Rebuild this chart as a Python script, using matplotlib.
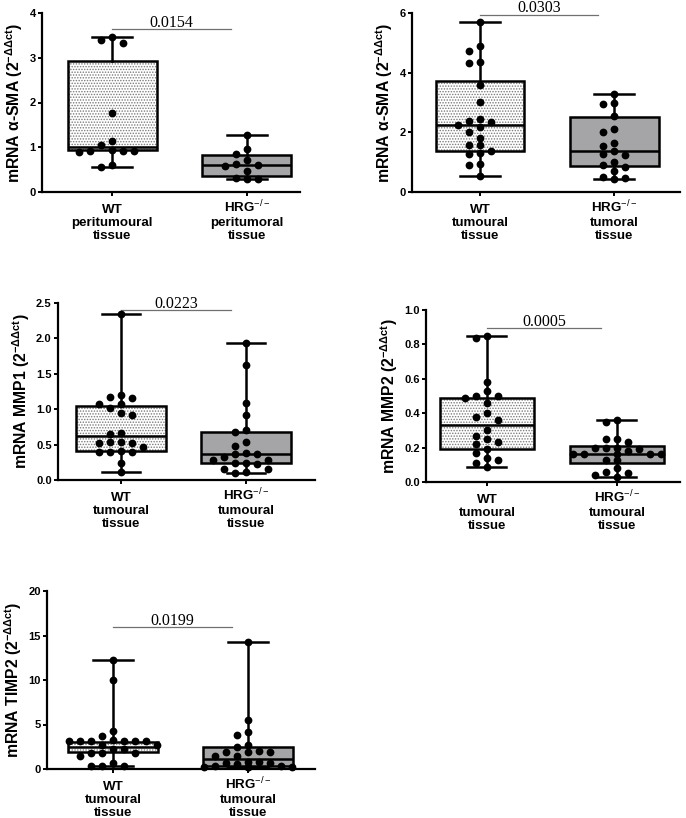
"""Box plots of mRNA levels, WT vs HRG-/- tissue."""
import matplotlib
matplotlib.use('Agg')
import matplotlib.pyplot as plt
from matplotlib.patches import Rectangle
import numpy as np

plt.rcParams['font.family'] = ['Liberation Sans', 'DejaVu Sans']
plt.rcParams['mathtext.fontset'] = 'custom'
plt.rcParams['mathtext.rm'] = 'Liberation Sans'
plt.rcParams['mathtext.bf'] = 'Liberation Sans:bold'
plt.rcParams['hatch.linewidth'] = 0.7

W, H = 686, 818

# ── Data ──────────────────────────────────────────────────
groups_asma_peri = ['WT\nperitumoural\ntissue', 'HRG$^{\\mathrm{-/-}}$\nperitumoral\ntissue']
groups_asma_tum = ['WT\ntumoural\ntissue', 'HRG$^{\\mathrm{-/-}}$\ntumoral\ntissue']
groups_tum = ['WT\ntumoural\ntissue', 'HRG$^{\\mathrm{-/-}}$\ntumoural\ntissue']

asma_peri_wt = [3.46, 3.39, 3.33, 1.76, 1.15, 1.06, 0.93, 0.92, 0.91, 0.91, 0.90, 0.60, 0.56]
asma_peri_hrg = [1.27, 0.95, 0.86, 0.72, 0.62, 0.60, 0.58, 0.46, 0.31, 0.29, 0.28]
asma_peri_stats = [(0.56, 0.94, 1.00, 2.92, 3.46), (0.28, 0.35, 0.60, 0.83, 1.27)]

asma_tum_wt = [5.70, 4.89, 4.74, 4.37, 4.33, 3.57, 3.01, 2.45, 2.37, 2.34, 2.25,
               2.17, 2.00, 1.81, 1.58, 1.56, 1.39, 1.30, 1.28, 0.95, 0.89, 0.54]
asma_tum_hrg = [3.28, 2.97, 2.96, 2.56, 2.12, 2.00, 1.64, 1.53, 1.37, 1.26, 1.25,
                1.00, 0.89, 0.84, 0.70, 0.50, 0.47, 0.45]
asma_tum_stats = [(0.54, 1.37, 2.25, 3.73, 5.70), (0.45, 0.87, 1.37, 2.51, 3.28)]

mmp1_wt = [2.34, 1.20, 1.17, 1.16, 1.08, 1.07, 1.02, 0.95, 0.92, 0.66, 0.65,
           0.53, 0.53, 0.52, 0.52, 0.46, 0.41, 0.40, 0.40, 0.39, 0.24, 0.11]
mmp1_hrg = [1.93, 1.63, 1.09, 0.92, 0.70, 0.68, 0.54, 0.48, 0.38, 0.37, 0.37,
            0.33, 0.28, 0.28, 0.24, 0.24, 0.23, 0.16, 0.16, 0.12, 0.10]
mmp1_stats = [(0.11, 0.41, 0.62, 1.04, 2.34), (0.10, 0.24, 0.37, 0.68, 1.93)]

mmp2_wt = [0.85, 0.84, 0.58, 0.53, 0.50, 0.50, 0.49, 0.46, 0.40, 0.38, 0.36,
           0.30, 0.27, 0.25, 0.23, 0.22, 0.19, 0.17, 0.14, 0.13, 0.11, 0.09]
mmp2_hrg = [0.36, 0.35, 0.25, 0.25, 0.23, 0.20, 0.20, 0.20, 0.19, 0.18, 0.16,
            0.16, 0.16, 0.16, 0.16, 0.13, 0.13, 0.08, 0.06, 0.05, 0.04, 0.03]
mmp2_stats = [(0.09, 0.19, 0.33, 0.49, 0.85), (0.03, 0.11, 0.16, 0.21, 0.36)]

timp2_wt = [12.2, 9.95, 4.22, 3.74, 3.3, 3.2, 3.2, 3.15, 3.1, 3.1, 3.2, 2.7,
            2.7, 2.2, 2.2, 1.85, 1.8, 1.8, 1.5, 0.67, 0.37, 0.30, 0.30]
timp2_hrg = [14.3, 5.46, 4.15, 3.78, 2.73, 2.47, 1.98, 1.87, 1.87, 1.87, 1.42,
             1.42, 0.75, 0.75, 0.67, 0.67, 0.56, 0.30, 0.30, 0.22, 0.22, 0.22,
             0.22, 0.22]
timp2_stats = [(0.30, 1.90, 2.45, 3.05, 12.2), (0.20, 0.30, 1.16, 2.47, 14.3)]

p_values = ['0.0154', '0.0303', '0.0223', '0.0005', '0.0199']
ylabels = ['mRNA α-SMA (2$^{\\mathbf{-ΔΔct}}$)',
           'mRNA α-SMA (2$^{\\mathbf{-ΔΔct}}$)',
           'mRNA MMP1 (2$^{\\mathbf{-ΔΔct}}$)',
           'mRNA MMP2 (2$^{\\mathbf{-ΔΔct}}$)',
           'mRNA TIMP2 (2$^{\\mathbf{-ΔΔct}}$)']

WT_FILL = 'white'
WT_DOTS = '#7a7a7a'
HRG_FILL = '#a5a5a7'


def swarm(values, yrange, h_px, step, dot_px=7.4):
    """Spread equal-ish values sideways in columns (GraphPad style)."""
    order = np.argsort(values)[::-1]
    placed = {}
    offs = np.zeros(len(values))
    for i in order:
        y = values[i] / yrange * h_px
        for k in [0, -1, 1, -2, 2, -3, 3, -4, 4]:
            col = placed.setdefault(k, [])
            if all(abs(y - yy) >= dot_px for yy in col):
                col.append(y)
                offs[i] = k * step
                break
    return offs


def panel(rect, wt, hrg, stats, labels, ylabel, pval, ymax, ystep, fmt,
          xlim, sig_y, width=0.66):
    ax = fig.add_axes(rect)
    ax.set_xlim(*xlim)
    ax.set_ylim(0, ymax)
    bxp_stats = []
    for (lo, q1, med, q3, hi) in stats:
        bxp_stats.append(dict(whislo=lo, q1=q1, med=med, q3=q3, whishi=hi,
                              fliers=[]))
    lw = 1.8
    ax.bxp(bxp_stats, positions=[0, 1], widths=width, patch_artist=True,
           showfliers=False, capwidths=0.3,
           boxprops=dict(facecolor='none', edgecolor='black', linewidth=lw),
           medianprops=dict(color='black', linewidth=lw),
           whiskerprops=dict(color='black', linewidth=lw),
           capprops=dict(color='black', linewidth=lw), zorder=3)
    # box fills
    q1, q3 = stats[0][1], stats[0][3]
    ax.add_patch(Rectangle((-width / 2, q1), width, q3 - q1, facecolor=WT_FILL,
                           edgecolor=WT_DOTS, linewidth=0, hatch='......',
                           zorder=2))
    q1, q3 = stats[1][1], stats[1][3]
    ax.add_patch(Rectangle((1 - width / 2, q1), width, q3 - q1,
                           facecolor=HRG_FILL, edgecolor='none', zorder=2))

    # points
    w_px = rect[2] * W
    h_px = rect[3] * H
    step = 11.0 / (w_px / (xlim[1] - xlim[0]))
    for pos, vals in [(0, wt), (1, hrg)]:
        vals = np.asarray(vals)
        offs = swarm(vals, ymax, h_px, step)
        ax.plot(pos + offs, vals, 'o', color='black', markersize=5.6,
                markeredgewidth=0, zorder=5, clip_on=False)

    # significance bar
    ax.plot([0, 0.88], [sig_y, sig_y], color='#707070', lw=0.9,
            clip_on=False, zorder=4)
    ax.annotate(pval, (0.44, sig_y), xytext=(0, 1.8),
                textcoords='offset points', ha='center', va='baseline',
                fontsize=11.5, family=['Liberation Serif', 'DejaVu Serif'])

    ax.spines[['top', 'right']].set_visible(False)
    for s in ['left', 'bottom']:
        ax.spines[s].set_linewidth(1.6)
    ax.set_yticks(np.arange(0, ymax + ystep / 2, ystep))
    ax.yaxis.set_major_formatter(matplotlib.ticker.FormatStrFormatter(fmt))
    ax.set_xticks([0, 1])
    ax.set_xticklabels(labels, fontsize=9.6, fontweight='bold',
                       linespacing=1.15)
    ax.tick_params(axis='both', width=1.4, length=3, direction='out')
    ax.tick_params(axis='y', labelsize=8, pad=1.5)
    ax.tick_params(axis='x', pad=31)
    for t in ax.get_xticklabels():
        t.set_verticalalignment('baseline')
    for t in ax.get_yticklabels():
        t.set_fontweight('bold')
    ax.set_ylabel(ylabel, fontsize=11.3, fontweight='bold', labelpad=3)
    return ax


fig = plt.figure(figsize=(W / 100, H / 100), dpi=100)
fig.patch.set_facecolor('white')


def frac(left, right, top, bottom):
    return [left / W, 1 - bottom / H, (right - left) / W, (bottom - top) / H]


panel(frac(42, 300, 13, 192), asma_peri_wt, asma_peri_hrg, asma_peri_stats,
      groups_asma_peri, ylabels[0], p_values[0], 4, 1, '%d',
      (-0.519, 1.393), 3.64)
panel(frac(412, 680, 13, 192), asma_tum_wt, asma_tum_hrg, asma_tum_stats,
      groups_asma_tum, ylabels[1], p_values[1], 6, 2, '%d',
      (-0.507, 1.49), 5.94)
panel(frac(58, 315, 303, 480), mmp1_wt, mmp1_hrg, mmp1_stats,
      groups_tum, ylabels[2], p_values[2], 2.5, 0.5, '%.1f',
      (-0.504, 1.55), 2.40, width=0.72)
panel(frac(426, 680, 310, 482), mmp2_wt, mmp2_hrg, mmp2_stats,
      groups_tum, ylabels[3], p_values[3], 1.0, 0.2, '%.1f',
      (-0.469, 1.485), 0.895, width=0.72)
panel(frac(47, 315, 591, 769), timp2_wt, timp2_hrg, timp2_stats,
      groups_tum, ylabels[4], p_values[4], 20, 5, '%d',
      (-0.489, 1.496), 15.95)

fig.savefig('out.png', dpi=100, facecolor='white')
